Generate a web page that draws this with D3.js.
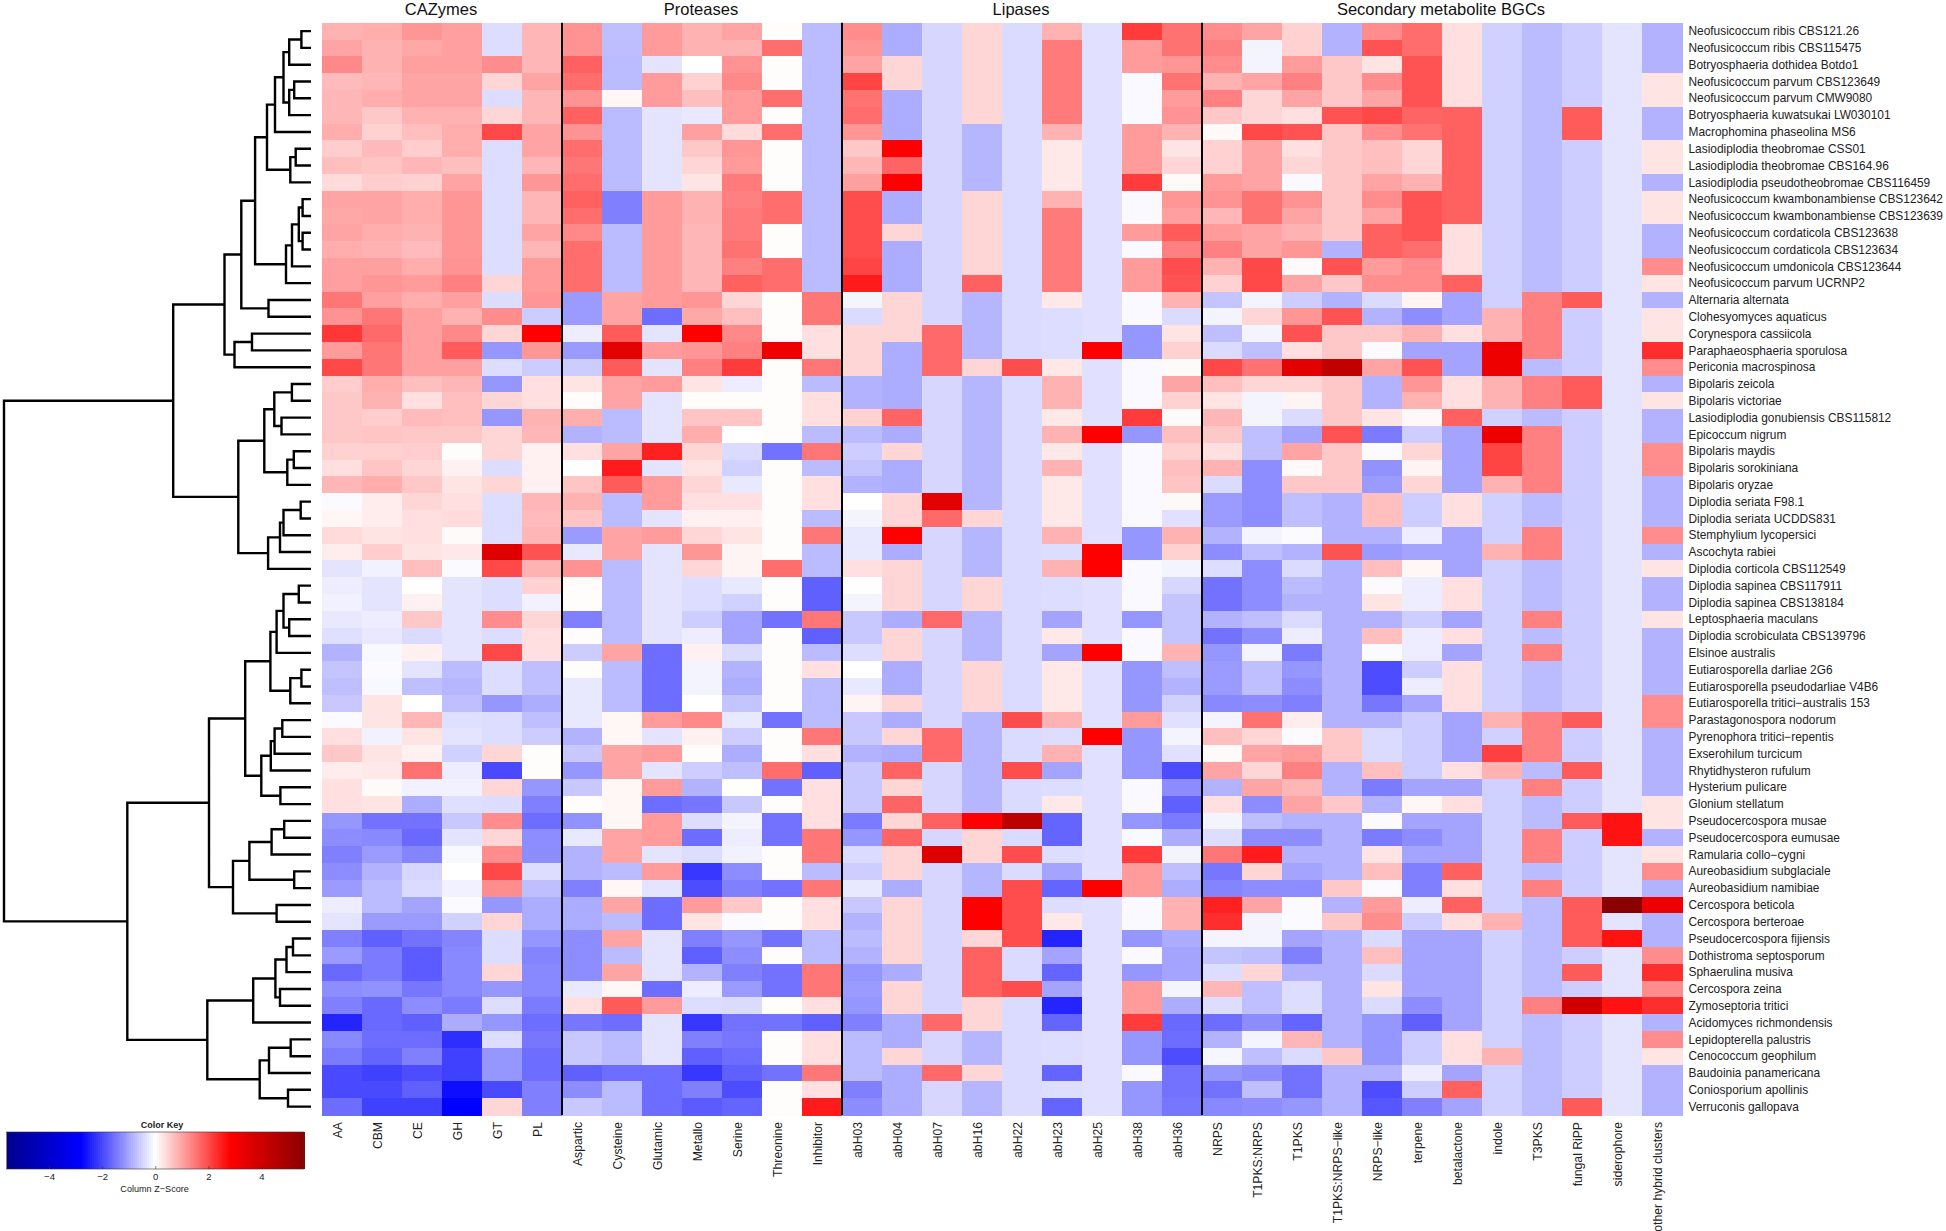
<!DOCTYPE html>
<html>
<head>
<meta charset="utf-8">
<script src="https://cdnjs.cloudflare.com/ajax/libs/d3/7.8.5/d3.min.js"></script>
<style>
html,body{margin:0;padding:0;background:#fff;}
svg{display:block;font-family:"Liberation Sans",Arial,sans-serif;}
</style>
</head>
<body>
<div id="chart"></div>
<script>
const species = ["Neofusicoccum ribis CBS121.26","Neofusicoccum ribis CBS115475","Botryosphaeria dothidea Botdo1","Neofusicoccum parvum CBS123649","Neofusicoccum parvum CMW9080","Botryosphaeria kuwatsukai LW030101","Macrophomina phaseolina MS6","Lasiodiplodia theobromae CSS01","Lasiodiplodia theobromae CBS164.96","Lasiodiplodia pseudotheobromae CBS116459","Neofusicoccum kwambonambiense CBS123642","Neofusicoccum kwambonambiense CBS123639","Neofusicoccum cordaticola CBS123638","Neofusicoccum cordaticola CBS123634","Neofusicoccum umdonicola CBS123644","Neofusicoccum parvum UCRNP2","Alternaria alternata","Clohesyomyces aquaticus","Corynespora cassiicola","Paraphaeosphaeria sporulosa","Periconia macrospinosa","Bipolaris zeicola","Bipolaris victoriae","Lasiodiplodia gonubiensis CBS115812","Epicoccum nigrum","Bipolaris maydis","Bipolaris sorokiniana","Bipolaris oryzae","Diplodia seriata F98.1","Diplodia seriata UCDDS831","Stemphylium lycopersici","Ascochyta rabiei","Diplodia corticola CBS112549","Diplodia sapinea CBS117911","Diplodia sapinea CBS138184","Leptosphaeria maculans","Diplodia scrobiculata CBS139796","Elsinoe australis","Eutiarosporella darliae 2G6","Eutiarosporella pseudodarliae V4B6","Eutiarosporella tritici−australis 153","Parastagonospora nodorum","Pyrenophora tritici−repentis","Exserohilum turcicum","Rhytidhysteron rufulum","Hysterium pulicare","Glonium stellatum","Pseudocercospora musae","Pseudocercospora eumusae","Ramularia collo−cygni","Aureobasidium subglaciale","Aureobasidium namibiae","Cercospora beticola","Cercospora berteroae","Pseudocercospora fijiensis","Dothistroma septosporum","Sphaerulina musiva","Cercospora zeina","Zymoseptoria tritici","Acidomyces richmondensis","Lepidopterella palustris","Cenococcum geophilum","Baudoinia panamericana","Coniosporium apollinis","Verruconis gallopava"];

const groups = ["CAZymes","Proteases","Lipases","Secondary metabolite BGCs"];
const groupCols = [
  ["AA","CBM","CE","GH","GT","PL"],
  ["Aspartic","Cysteine","Glutamic","Metallo","Serine","Threonine","Inhibitor"],
  ["abH03","abH04","abH07","abH16","abH22","abH23","abH25","abH38","abH36"],
  ["NRPS","T1PKS:NRPS","T1PKS","T1PKS:NRPS−like","NRPS−like","terpene","betalactone","indole","T3PKS","fungal RiPP","siderophore","other hybrid clusters"]
];

// Column z-scores, top row to bottom row, five rows per group
const zAA = [.85,1,1.3,.75,.8, .8,.9,.55,.7,.4, 1,.95,1,.9,1.05, 1.05,1.5,1.2,2.2,1.1, 2,.55,.6,.6,.6, .5,.35,.8,-.05,.1, .4,.2,-.3,-.2,-.15, -.25,-.35,-.85,-.65,-.7, -.6,-.05,.35,.6,.2, .35,.35,-1.15,-1.25,-1.4, -1.25,-1.1,-.2,-.3,-1.4, -1.1,-1.65,-1.25,-1.4,-2.4, -1.3,-1.45,-2,-2,-1.6];
const zCBM = [.9,.85,.85,.8,.9, .6,.5,.75,.65,.55, 1,1,.9,.85,1.05, 1.15,1.05,1.5,1.65,1.5, 1.5,.9,.85,.55,.65, .5,.65,.9,.2,.2, .3,.55,-.15,-.3,-.3, -.2,-.25,-.08,-.04,-.08, .3,.3,-.15,.3,.25, .05,.3,-1.55,-1.3,-1.1, -.85,-.75,-.75,-1.1,-1.75, -1.45,-1.45,-1.2,-1.65,-1.65, -1.6,-1.7,-2.1,-2,-2.1];
const zCE = [1.15,.95,1.05,1,1, .85,.7,.55,.8,.5, .9,.9,.85,.75,.9, 1.1,.9,1.05,1.05,1.05, 1.05,.7,.35,.75,.6, .55,.45,.6,.45,.35, .35,.3,.7,0,.15, .6,-.4,.15,-.3,-.7, 0,.8,.3,.15,1.55, -.15,-.9,-1.55,-1.65,-1.35, -.45,-.4,-1,-1.1,-1.55, -1.8,-1.8,-1.5,-1.25,-1.75, -1.6,-1.4,-1.95,-1.75,-2.1];
const zGH = [1.05,1.05,1.05,1,1, .85,.9,.9,.7,1, 1.15,1.15,1.15,1.15,1.2, 1.4,1.05,.85,1.3,1.8, 1.05,.8,.7,.7,.6, .03,.15,.3,.35,.4, .05,.25,-.05,-.3,-.3, -.3,-.3,-.3,-.75,-.8, -.7,-.35,-.3,-.5,-.2, -.15,-.35,-.6,-.3,-.08, 0,-.15,-.05,-.5,-1.35, -1.3,-1.3,-1.3,-1.45,-.9, -2.3,-2.1,-2.1,-2.65,-2.8];
const zGT = [-.37,-.37,1.25,.45,-.37, .45,2,-.37,-.37,-.37, -.37,-.37,-.37,-.37,-.37, .45,-.37,1.25,.45,-1.15, -.37,-1.15,.45,-1.15,.45, .45,-.37,.45,-.37,-.37, -.37,3.6,2,-.37,-.37, 1.25,-.37,2,-.37,-.37, -1.15,-.37,-.37,.45,-2, .45,-.37,1.25,.45,1.25, 2,1.25,-1.15,.45,-.37, -.37,.45,-1.15,-.37,-1.15, -.37,-1.15,-1.15,-2,.45];
const zPL = [.8,.8,.8,1,.8, .8,1,1,.8,1.15, .8,.8,1,.8,1.1, 1.1,1.15,-.56,2.8,1.15, -.56,.35,.35,.85,.8, .15,.15,.15,.8,.75, .8,1.9,.85,.5,-.15, .45,.35,.35,-.7,-.7, -.9,-.7,-.56,.03,.03, -1.15,-1.4,-1.6,-1.25,-1.25, -.37,-.7,-.9,-.9,-1.15, -1.35,-1.3,-1.3,-1.45,-1.6, -1.5,-1.6,-1.6,-1.4,-1.4];
const zAspartic = [1.2,1.2,1.75,1.6,1.2, 1.75,1.2,1.6,1.5,1.6, 1.75,1.6,1.3,1.6,1.6, 1.6,-1.1,-1.1,-.2,-1.1, -.56,.3,.03,.9,-.85, .35,0,.65,.85,.65, -1.1,-.25,1.2,.03,.03, -1.4,.03,-.56,.03,-.25, -.25,-.25,-.85,-.6,-1.15, -.6,.03,-1.2,-.25,-.85, -.85,-1.4,-.9,-.9,-1.25, -1.25,-1.25,-.25,.35,-1.5, -.6,-.6,-1.75,-1.25,-.6];
const zCysteine = [-.7,-.72,-.75,-.75,.1, -.75,-.75,-.75,-.75,-.75, -1.4,-1.4,-.75,-.75,-.75, -.75,1,1,1.8,3.5, 1.8,1,1,-.75,-.75, 1,2.5,1.8,-.75,-.75, 1,1,-.75,-.75,-.75, -.75,-.75,1,-.75,-.75, -.75,.1,.1,1,1, .1,.1,.1,1,1, -.75,.1,1,-.75,1, -.75,1,.1,1.8,-1.6, -.75,-.75,-1.6,-.75,-.75];
const zGlutamic = [1.1,1.1,-.3,1.1,1.1, -.3,-.3,-.3,-.3,-.3, 1.1,1.1,1.1,1.1,1.1, 1.1,1.1,-1.6,-.3,1.1, -.3,1.1,-.3,-.3,-.3, 2.45,-.3,1.1,1.1,-.3, 1.1,-.3,-.3,-.3,-.3, -.3,-.3,-1.6,-1.6,-1.6, -1.6,1.1,-.3,1.1,-.3, 1.1,-1.6,1.1,1.1,-.3, 1.1,-.3,-1.6,-1.6,-.3, -.3,-.3,-1.6,1.1,-.3, -.3,-.3,-1.6,-1.6,-1.6];
const zMetallo = [.85,.85,0,.5,.7, -.25,1.05,.6,.45,.3, .85,.85,.8,.8,.8, .8,1.15,.95,2.8,1.15, 1.4,.3,.03,.65,.9, .45,.3,.45,.35,.15, .45,1.15,.45,-.37,-.37, -.55,-.2,.15,-.12,-.12, 0,1.3,.15,.03,-.55, -.85,-1.5,-.37,-1.6,-.37, -2.2,-1.95,1.1,.3,-1.4, -1.75,-.85,-.2,-.37,-2.2, -1.4,-1.75,-2.2,-1.4,-1.8];
const zSerine = [1,.85,1.2,1.3,1.1, 1.1,.4,1.15,1.1,1.45, 1.4,1.45,1.45,1.55,1.4, 1.75,.45,.7,1.3,1.4, 2.15,-.2,.03,.65,0, -.4,-.5,-.25,.35,.15, .3,.12,.12,-.25,-.5, -1,-1,-.4,-.85,-.9, -.65,-.25,-.55,-.9,-.7, 0,-.6,-.12,-.2,-.15, -1.25,-1.4,.6,-.05,-1.15, -1.25,-1.4,-1.1,-.4,-1.55, -1.5,-1.6,-1.75,-1.95,-1.7];
const zThreonine = [.03,1.6,.03,.03,1.6, .03,1.6,.03,.03,.03, 1.6,1.6,.03,.03,1.6, 1.6,.03,.03,.03,3.2, .03,.03,.03,.03,.03, -1.55,.03,.03,.03,.03, .03,.03,1.6,.03,.03, -1.55,.03,.03,.03,.03, .03,-1.55,.03,.03,1.6, -1.55,.03,-1.55,-1.55,.03, .03,-1.55,.03,.03,-1.55, .03,-1.55,-1.55,.03,-1.55, .03,.03,-1.55,.03,.03];
const zInhibitor = [-.75,-.75,-.75,-.75,-.75, -.75,-.75,-.75,-.75,-.75, -.75,-.75,-.75,-.75,-.75, -.75,1.5,1.5,.35,.35, 1.5,-.75,.35,.35,-.75, 1.5,-.75,.35,.35,-.75, 1.5,-.75,-.75,-1.75,-1.75, 1.5,-1.75,-.75,.35,-.75, -.75,-.75,1.5,.35,-1.75, .35,.35,.35,1.5,1.5, -.75,1.5,.35,.35,-.75, -.75,1.5,1.5,.35,-1.75, .35,.35,1.5,.35,2.5];
const zabH03 = [1.25,1.15,1,2.05,1.55, 1.6,1.15,.6,.8,1.05, 1.95,1.95,1.95,1.95,2.05, 2.5,-.12,-.4,.45,.45, .45,-.85,-.85,.5,-.75, -.55,-.65,-.85,0,-.12, -.25,-.25,.35,0,-.12, -.6,-.6,-.37,0,-.25, .12,-.6,-.6,-.85,-.6, -.6,-.6,-1.45,-1.15,-.4, -.55,-.25,-.6,-.85,-.75, -.85,-1.15,-1.1,-1.15,-1.4, -.75,-.75,-.75,-1.4,-1.25];
const zabH04 = [-.9,-.9,.45,.45,-.9, -.9,-.9,2.8,1.7,2.8, -.9,-.9,.45,-.9,-.9, -.9,.45,.45,.45,-.9, -.9,-.9,-.9,1.7,-.9, .45,-.9,-.9,.45,.45, 2.8,-.9,.45,.45,.45, -.9,.45,.45,-.9,-.9, .45,-.9,.45,-.9,1.7, .45,1.7,.45,1.7,.45, .45,-.9,.45,.45,.45, .45,-.9,.45,.45,-.9, -.9,.45,-.9,-.9,-.9];
const zabH07 = [-.45,-.45,-.45,-.45,-.45, -.45,-.45,-.45,-.45,-.45, -.45,-.45,-.45,-.45,-.45, -.45,-.45,-.45,1.65,1.65, 1.65,-.45,-.45,-.45,-.45, -.45,-.45,-.45,3.5,1.65, -.45,-.45,-.45,-.45,-.45, 1.65,-.45,-.45,-.45,-.45, -.45,-.45,1.65,1.65,-.45, -.45,-.45,1.75,-.45,3.6, -.45,-.45,-.45,-.45,-.45, -.45,-.45,-.45,-.45,1.65, -.45,-.45,1.65,-.45,-.45];
const zabH16 = [.45,.45,.45,.45,.45, .45,-.8,-.8,-.8,-.8, .45,.45,.45,.45,.45, 1.75,-.8,-.8,-.8,-.8, .45,-.8,-.8,-.8,-.8, -.8,-.8,-.8,-.8,.45, -.8,-.8,-.8,.45,.45, -.8,-.8,-.8,.45,.45, .45,-.8,-.8,-.8,-.8, -.8,-.8,2.8,.45,.45, -.8,-.8,2.8,2.8,.45, 1.75,1.75,1.75,.45,.45, -.8,-.8,.45,-.8,-.8];
const zabH22 = [-.4,-.4,-.4,-.4,-.4, -.4,-.4,-.4,-.4,-.4, -.4,-.4,-.4,-.4,-.4, -.4,-.4,-.4,-.4,-.4, 1.95,-.4,-.4,-.4,-.4, -.4,-.4,-.4,-.4,-.4, -.4,-.4,-.4,-.4,-.4, -.4,-.4,-.4,-.4,-.4, -.4,1.95,-.4,-.4,1.95, -.4,-.4,4.4,-.4,1.95, -.4,1.95,1.95,1.95,1.95, -.4,-.4,1.95,-.4,-.4, -.4,-.4,-.4,-.4,-.4];
const zabH23 = [.85,1.45,1.45,1.45,1.45, 1.45,.85,.25,.25,.25, .85,1.45,1.45,1.45,1.45, 1.45,.25,-.37,-.37,-.37, .25,.85,.85,.25,.85, .25,.85,.25,.25,.25, .85,-.37,.85,-.37,-.37, -1,.25,-1,.25,.25, .25,.85,-.37,.85,-1, -.37,.25,-1.7,-1.7,-.37, -1,-1.7,-.37,.25,-2.4, -1,-1.7,-1,-2.4,-1.7, -.37,-.37,-1.7,-.37,-1.7];
const zabH25 = [-.33,-.33,-.33,-.33,-.33, -.33,-.33,-.33,-.33,-.33, -.33,-.33,-.33,-.33,-.33, -.33,-.33,-.33,-.33,2.8, -.33,-.33,-.33,-.33,2.8, -.33,-.33,-.33,-.33,-.33, -.33,2.8,2.8,-.33,-.33, -.33,-.33,2.8,-.33,-.33, -.33,-.33,2.8,-.33,-.33, -.33,-.33,-.33,-.33,-.33, -.33,2.8,-.33,-.33,-.33, -.33,-.33,-.33,-.33,-.33, -.33,-.33,-.33,-.33,-.33];
const zabH38 = [2.15,1.1,1.1,-.07,-.07, -.07,1.1,1.1,1.1,2.15, -.07,-.07,1.1,-.07,1.1, 1.1,-.07,-.07,-1.15,-1.15, -.07,-.07,-.07,2.15,-1.15, -.07,-.07,-.07,-.07,-.07, -1.15,-1.15,-.07,-.07,-.07, -1.15,-.07,-.07,-1.15,-1.15, -1.15,1.1,-1.15,-1.15,-1.15, -.07,-.07,-1.15,-.07,2.15, 1.1,1.1,-.07,-.07,-1.15, -.07,-1.15,1.1,1.1,2.15, -1.15,-1.15,-.07,-1.15,-1.15];
const zabH36 = [1.55,1.55,1.15,1.55,1.1, 1.2,.85,.3,.45,.05, 1.15,1.05,1.8,1.4,1.95, 1.9,.85,-.4,.3,.5, .05,1,.5,.05,.7, .5,.7,.65,.08,-.33, .85,.5,-.12,-.45,-.65, -.65,-.65,.85,-.7,-.85, -.5,-.33,-.12,-.33,-1.95, -1.25,-1.75,-1.45,-.9,-.12, -.7,-.9,.85,.85,-.9, -1,-1,-.12,-.9,-1.65, -1.6,-1.95,-1.55,-1.55,-1.5];
const zNRPS = [1.25,1.4,1.25,.85,1.4, .6,.05,.5,.5,1.1, 1.2,.8,1.1,1.4,.85, .5,-.65,-.12,-.7,-.4, 2,.7,.3,.8,.6, .35,.85,-.4,-1.1,-1.1, -.85,-1.25,-.37,-1.55,-1.55, -.85,-1.55,-1.15,-1.1,-1.1, -1.3,-.12,.7,.05,1, -.85,.35,-.12,-.37,1.5, -1.5,-1.35,2.45,2.3,-.12, -.65,-.37,.8,-.37,-1.6, -.85,-.1,-1.15,-1.55,-1.3];
const zT1PKSNRPS = [1,-.12,-.12,1,.45, .45,2,1,1,1, 1.55,1.55,1,1,2, 2,-.12,.45,-.12,-.7, 1.55,.45,-.12,-.12,-.7, -.7,-1.25,-1.25,-1.25,-1.25, -.12,-.7,-1.25,-1.25,-1.25, -.7,-1.25,-.12,-.7,-.7, -1.25,1.55,.45,1,.45, 1,-1.25,-.7,-1.25,2.5, .45,-1.25,1,-.12,-.12, -.7,.45,-.7,-.7,-1.25, -.12,-.7,-1.25,-.7,-1.25];
const zT1PKS = [.5,.5,1.1,1.4,1, .35,1.9,.35,.45,-.07, 1.2,1,.85,1.15,.05, 1,-.55,1.15,1.9,.35, 3.5,.45,.12,-.4,-1, 1,.07,.6,-.7,-.7, -.05,-.85,-.4,-.75,-.85, -.4,-.2,-1.45,-1.15,-1.25, -1.4,.2,-.05,1.1,1.4, .8,1,-.85,-1.25,-.85, -1,-1.25,-.05,-.05,-1, -1.4,-.85,-.37,-.37,-1.7, .8,-.4,-1.55,-1.55,-1.15];
const zT1PKSNRPSlike = [-.85,-.85,.6,.6,.6, 1.9,.6,.6,.6,.6, .6,.6,.6,-.85,1.9, .6,-.85,1.9,.6,.6, 4.3,.6,.6,.6,1.9, .6,.6,.6,-.85,-.85, -.85,1.9,-.85,-.85,-.85, -.85,-.85,-.85,-.85,-.85, -.85,-.85,.6,.6,-.85, -.85,.6,-.85,-.85,-.85, -.85,.6,-.85,.6,-.85, -.85,-.85,-.85,-.85,-.85, -.85,.6,-.85,-.85,-.85];
const zNRPSlike = [1.25,1.9,.3,1.25,1, 2,1.25,.7,.7,1, 1.25,1,1.75,1.75,1.1, 1.25,-.4,-.85,.6,-.05, 1,-.85,-.85,.3,-1.45, -.05,-1.2,-1.1,.7,.7, -.85,-1.1,.7,-.05,.3, -.85,.7,-.05,-1.95,-1.95, -1.5,-.85,-.4,-.4,.7, -1.45,-.85,-.05,-1.45,.3, .7,-.05,1.1,1.25,-.4, .7,-.4,.3,-.4,-1.15, -1.15,-1.15,-.85,-1.95,-1.85];
const zterpene = [1.6,1.6,1.9,1.9,1.9, 1.7,1.55,.45,.45,.85, 1.9,1.9,1.9,1.6,1.25, 1.25,.12,-1.25,.85,-1, 1.9,1.15,.85,.08,-.55, .45,.12,.45,-.55,-.55, -.2,-1,.1,-.2,-.2, -.55,-.2,-.2,-.55,-.2, -1,-.55,-.55,-.55,-.55, -1,.1,-1,-1.25,-1, -1.4,-1.4,-.2,-.55,-1, -1,-1,-1,-1.25,-1.75, -.55,-.55,-.2,-.55,-1.4];
const zbetalactone = [.35,.35,.35,.35,.35, 1.75,1.75,1.75,1.75,1.75, 1.75,1.75,.35,.35,.35, 1.75,-1,-1,.35,-1, -1,.35,.35,1.75,-1, -1,-1,-1,.35,.35, -1,-1,-1,.35,.35, -1,.35,-1,.35,.35, .35,-1,-1,-1,.35, -1,.35,-1,-1,-1, 1.75,.35,1.75,.35,-1, -1,-1,-1,-1,-1, .35,.35,-1,1.75,-1];
const zindole = [-.5,-.5,-.5,-.5,-.5, -.5,-.5,-.5,-.5,-.5, -.5,-.5,-.5,-.5,-.5, -.5,-.5,.85,.85,3.2, 3.2,.85,.85,-.5,3.2, 2.05,2.05,.85,-.5,-.5, -.5,.85,-.5,-.5,-.5, -.5,-.5,-.5,-.5,-.5, -.5,.85,-.5,2.1,.85, -.5,-.5,-.5,-.5,-.5, -.5,-.5,-.5,.85,-.5, -.5,-.5,-.5,-.5,-.5, -.5,.85,-.5,-.5,-.5];
const zT3PKS = [-.75,-.75,-.75,-.75,-.75, -.75,-.75,-.75,-.75,-.75, -.75,-.75,-.75,-.75,-.75, -.75,1.4,1.4,1.4,1.4, -.75,1.4,1.4,-.75,1.4, 1.4,1.4,1.4,-.75,-.75, 1.4,1.4,-.75,-.75,-.75, 1.4,-.75,1.4,-.75,-.75, -.75,1.4,1.4,1.4,-.75, 1.4,-.75,-.75,1.4,1.4, -.75,1.4,-.75,-.75,-.75, -.75,-.75,-.75,1.4,-.75, -.75,-.75,-.75,-.75,-.75];
const zfungalRiPP = [-.55,-.55,-.55,-.55,-.55, 1.8,1.8,-.55,-.55,-.55, -.55,-.55,-.55,-.55,-.55, -.55,1.8,-.55,-.55,-.55, -.55,1.8,1.8,-.55,-.55, -.55,-.55,-.55,-.55,-.55, -.55,-.55,-.55,-.55,-.55, -.55,-.55,-.55,-.55,-.55, -.55,1.8,-.55,-.55,1.8, -.55,-.55,1.8,-.55,-.55, -.55,-.55,1.8,1.8,1.8, -.55,1.8,-.55,3.9,-.55, -.55,-.55,-.55,-.55,1.8];
const zsiderophore = [-.3,-.3,-.3,-.3,-.3, -.3,-.3,-.3,-.3,-.3, -.3,-.3,-.3,-.3,-.3, -.3,-.3,-.3,-.3,-.3, -.3,-.3,-.3,-.3,-.3, -.3,-.3,-.3,-.3,-.3, -.3,-.3,-.3,-.3,-.3, -.3,-.3,-.3,-.3,-.3, -.3,-.3,-.3,-.3,-.3, -.3,-.3,2.6,2.6,-.3, -.3,-.3,5.6,-.3,2.6, -.3,-.3,-.3,2.6,-.3, -.3,-.3,-.3,-.3,-.3];
const zotherhybrid = [-.85,-.85,-.85,.3,.3, -.85,-.85,.3,.3,-.85, .3,.3,-.85,-.85,1.25, .3,-.85,.3,.3,2.3, 1.25,-.85,.3,-.85,-.85, 1.25,1.25,-.85,-.85,-.85, 1.25,-.85,.3,-.85,-.85, .3,-.85,-.85,-.85,-.85, 1.25,1.25,-.85,-.85,-.85, -.85,.3,.3,-.85,.3, 1.25,-.85,3.2,-.85,-.85, 1.25,2.3,1.25,2.3,-.85, 1.25,.3,-.85,-.85,-.85];

const zColumns = [zAA,zCBM,zCE,zGH,zGT,zPL,zAspartic,zCysteine,zGlutamic,zMetallo,zSerine,zThreonine,zInhibitor,zabH03,zabH04,zabH07,zabH16,zabH22,zabH23,zabH25,zabH38,zabH36,zNRPS,zT1PKSNRPS,zT1PKS,zT1PKSNRPSlike,zNRPSlike,zterpene,zbetalactone,zindole,zT3PKS,zfungalRiPP,zsiderophore,zotherhybrid];

// Dendrogram: [merge height, child, child]; a plain number is a row (1-based)
const cladeBotry = [44,[36,[27.5,[21.8,[9.6,1,2],3],[21.8,[16.8,4,5],6]],7],[20.7,[15.3,8,9],10]];
const cladeNeo = [25,[19,[12.2,[8.4,11,12],[8.4,13,14]],15],16];
const cladeUpper = [86.5,[69.7,[55.9,cladeBotry,cladeNeo],[42.5,17,18]],[76.5,[59,19,20],21]];
const cladeBipolaris = [46.7,[36.7,[19.1,22,23],[29.5,24,25]],[23.7,[17.2,26,27],28]];
const cladeSeriata = [42.9,[31,[27.5,[10.3,29,30],31],32],33];
const cladeTop = [137.8,cladeUpper,[72.7,cladeBipolaris,cladeSeriata]];
const cladeDiplodia = [40.6,[34.4,[27.5,[12.2,34,35],[21.8,36,37]],38],[20.7,[9.6,39,40],41]];
const cladeDothideo = [49.7,[40.2,[36.4,[28.7,42,43],44],45],[30.6,46,47]];
const cladeCerco = [78,[61.6,[39.4,[26.8,48,49],50],[16.8,51,52]],[34.4,53,54]];
const cladeMid = [102,[65.8,cladeDiplodia,cladeDothideo],cladeCerco];
const cladeLow = [103.7,[57.8,[35.6,[24.5,[18,55,56],57],[31,58,59]],60],[51.3,[42,[20.3,61,62],63],[23,64,65]]];
const dendrogram = [307,cladeTop,[183.7,cladeMid,cladeLow]];

const keyTicks = [-4,-2,0,2,4];
const keyDomain = [-5.6,-2.8,0,2.8,5.6];
const keyColours = ["#00008b","#0000ff","#ffffff","#ff0000","#8b0000"];

const W = 1946, H = 1231;
const plotLeft = 322, plotRight = 1682, plotTop = 22.7, plotBottom = 1115;
const allCols = groupCols.flat();
const x = d3.scaleBand().domain(d3.range(allCols.length)).range([plotLeft,plotRight]);
const y = d3.scaleBand().domain(d3.range(species.length)).range([plotTop,plotBottom]);
const colour = d3.scaleLinear().domain(keyDomain).range(keyColours).clamp(true);

const svg = d3.select("#chart").append("svg").attr("width",W).attr("height",H);

// cells
const cells = zColumns.flatMap((col,c)=>col.map((z,r)=>({c,r,z})));
svg.append("g").attr("shape-rendering","crispEdges").selectAll("rect").data(cells).join("rect")
  .attr("x",d=>x(d.c)).attr("y",d=>y(d.r))
  .attr("width",x.bandwidth()+.5).attr("height",y.bandwidth()+.5)
  .attr("fill",d=>colour(d.z));

// group separators and titles
let offset = 0;
groups.forEach((g,i)=>{
  const n = groupCols[i].length;
  const x0 = x(offset), x1 = x(offset)+n*x.step();
  svg.append("text").attr("x",(x0+x1)/2-1).attr("y",15).attr("text-anchor","middle")
    .attr("font-size",16.5).attr("fill","#111").text(g);
  if(i<groups.length-1){
    svg.append("line").attr("x1",x1).attr("x2",x1).attr("y1",plotTop).attr("y2",plotBottom)
      .attr("stroke","#000").attr("stroke-width",2);
  }
  offset += n;
});

// column labels
svg.append("g").selectAll("text").data(allCols).join("text")
  .attr("transform",(d,i)=>`translate(${x(i)+x.bandwidth()/2-0.5},${plotBottom+7}) rotate(-90)`)
  .attr("text-anchor","end").attr("font-size",12.2).attr("fill","#222").text(d=>d);

// row labels
svg.append("g").selectAll("text").data(species).join("text")
  .attr("x",plotRight+6.5).attr("y",(d,i)=>y(i)+y.bandwidth()/2).attr("dy","0.35em")
  .attr("font-size",11.9).attr("fill","#222").text(d=>d);

// dendrogram
const hScale = d3.scaleLinear().domain([0,307]).range([311,4]);
const yMid = r => y(r-1)+y.bandwidth()/2;
const dPath = d3.path();
function place(n){
  if(typeof n==="number") return {px:hScale(0),py:yMid(n)};
  const a = place(n[1]), b = place(n[2]), px = hScale(n[0]);
  dPath.moveTo(a.px,a.py); dPath.lineTo(px,a.py); dPath.lineTo(px,b.py); dPath.lineTo(b.px,b.py);
  return {px,py:(a.py+b.py)/2};
}
place(dendrogram);
svg.append("path").attr("d",dPath.toString()).attr("fill","none").attr("stroke","#000")
  .attr("stroke-width",2.4).attr("stroke-linejoin","miter");

// colour key
const kx = d3.scaleLinear().domain([-5.6,5.6]).range([6.5,304]);
const kTop = 1132, kBot = 1169;
const kg = svg.append("g").attr("shape-rendering","crispEdges");
const keySteps = d3.range(0,150);
const kstep = (kx.range()[1]-kx.range()[0])/keySteps.length;
kg.selectAll("rect").data(keySteps).join("rect")
  .attr("x",i=>kx.range()[0]+i*kstep).attr("y",kTop).attr("width",kstep+.6).attr("height",kBot-kTop)
  .attr("fill",i=>colour(kx.invert(kx.range()[0]+(i+.5)*kstep)));
svg.append("rect").attr("x",6.5).attr("y",kTop).attr("width",297.5).attr("height",kBot-kTop)
  .attr("fill","none").attr("stroke","#333").attr("stroke-width",.6);
const kAxis = d3.axisBottom(kx).tickValues(keyTicks).tickSize(0).tickPadding(4).tickFormat(d3.format("d"));
const kAx = svg.append("g").attr("transform",`translate(0,${kBot})`).call(kAxis);
kAx.select(".domain").remove();
kAx.selectAll("text").attr("font-size",9.5).attr("font-family","Liberation Sans").attr("fill","#222");
kAx.selectAll(".tick").append("line").attr("y1",0).attr("y2",-3).attr("stroke","#333").attr("stroke-width",.6);
svg.append("text").attr("x",162).attr("y",1128).attr("text-anchor","middle").attr("font-size",9)
  .attr("font-weight","bold").attr("fill","#222").text("Color Key");
svg.append("text").attr("x",154.6).attr("y",1191.5).attr("text-anchor","middle").attr("font-size",9.1)
  .attr("fill","#222").text("Column Z−Score");
</script>
</body>
</html>
